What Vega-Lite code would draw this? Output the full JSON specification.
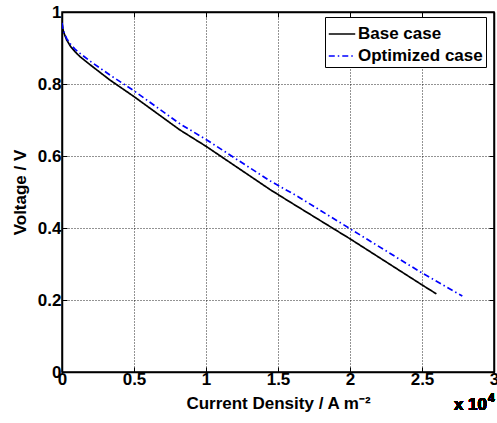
{
  "$schema": "https://vega.github.io/schema/vega-lite/v6.json",
  "width": 432,
  "height": 360,
  "autosize": {"type": "none"},
  "padding": {"left": 62, "top": 12, "right": 3, "bottom": 51},
  "background": "white",
  "config": {
    "font": "Liberation Sans",
    "view": {"stroke": "black", "strokeWidth": 1.5},
    "axis": {
      "labelFont": "Liberation Sans",
      "labelFontSize": 17,
      "labelFontWeight": "bold",
      "labelColor": "black",
      "titleFont": "Liberation Sans",
      "titleFontSize": 17,
      "titleFontWeight": "bold",
      "titleColor": "black",
      "domainColor": "black",
      "domainWidth": 1.5,
      "tickColor": "black",
      "tickWidth": 1,
      "gridColor": "black",
      "gridDash": [1, 2],
      "gridOpacity": 0.85,
      "gridWidth": 1
    }
  },
  "data": {
    "values": [
      {"series": "Base case", "j": 0, "v": 0.97},
      {"series": "Base case", "j": 50, "v": 0.955},
      {"series": "Base case", "j": 100, "v": 0.946},
      {"series": "Base case", "j": 200, "v": 0.935},
      {"series": "Base case", "j": 330, "v": 0.922},
      {"series": "Base case", "j": 600, "v": 0.904},
      {"series": "Base case", "j": 900, "v": 0.89},
      {"series": "Base case", "j": 1250, "v": 0.876},
      {"series": "Base case", "j": 2000, "v": 0.852},
      {"series": "Base case", "j": 3330, "v": 0.811},
      {"series": "Base case", "j": 5000, "v": 0.765},
      {"series": "Base case", "j": 8200, "v": 0.672},
      {"series": "Base case", "j": 10000, "v": 0.627},
      {"series": "Base case", "j": 14440, "v": 0.507},
      {"series": "Base case", "j": 15600, "v": 0.478},
      {"series": "Base case", "j": 20000, "v": 0.37},
      {"series": "Base case", "j": 25000, "v": 0.242},
      {"series": "Base case", "j": 26000, "v": 0.217},
      {"series": "Optimized case", "j": 0, "v": 0.97},
      {"series": "Optimized case", "j": 50, "v": 0.956},
      {"series": "Optimized case", "j": 100, "v": 0.948},
      {"series": "Optimized case", "j": 200, "v": 0.938},
      {"series": "Optimized case", "j": 330, "v": 0.926},
      {"series": "Optimized case", "j": 600, "v": 0.91},
      {"series": "Optimized case", "j": 900, "v": 0.897},
      {"series": "Optimized case", "j": 1250, "v": 0.885},
      {"series": "Optimized case", "j": 2000, "v": 0.862},
      {"series": "Optimized case", "j": 3330, "v": 0.825},
      {"series": "Optimized case", "j": 5000, "v": 0.781},
      {"series": "Optimized case", "j": 8200, "v": 0.689},
      {"series": "Optimized case", "j": 10000, "v": 0.646},
      {"series": "Optimized case", "j": 14440, "v": 0.531},
      {"series": "Optimized case", "j": 16400, "v": 0.487},
      {"series": "Optimized case", "j": 20000, "v": 0.398},
      {"series": "Optimized case", "j": 25000, "v": 0.275},
      {"series": "Optimized case", "j": 27800, "v": 0.211}
    ]
  },
  "resolve": {"axis": {"x": "independent", "y": "independent"}},
  "layer": [
    {
      "mark": {"type": "line", "strokeWidth": 1.7, "clip": true},
      "encoding": {
        "x": {
          "field": "j",
          "type": "quantitative",
          "scale": {"domain": [0, 30000], "nice": false, "zero": false},
          "axis": {
            "orient": "bottom",
            "values": [0, 5000, 10000, 15000, 20000, 25000, 30000],
            "labelExpr": "format(datum.value / 10000, '~g')",
            "title": "Current Density / A m⁻²",
            "tickSize": -5,
            "labelPadding": 4,
            "titlePadding": 8,
            "grid": true,
            "labelFlush": false
          }
        },
        "y": {
          "field": "v",
          "type": "quantitative",
          "scale": {"domain": [0, 1], "nice": false, "zero": false},
          "axis": {
            "orient": "left",
            "values": [0, 0.2, 0.4, 0.6, 0.8, 1],
            "labelExpr": "format(datum.value, '~g')",
            "title": "Voltage / V",
            "tickSize": -5,
            "labelPadding": 6,
            "titlePadding": 8,
            "grid": true,
            "labelFlush": false
          }
        },
        "color": {
          "field": "series",
          "type": "nominal",
          "scale": {"domain": ["Base case", "Optimized case"], "range": ["#000000", "#0000ff"]},
          "legend": {
            "title": null,
            "orient": "none",
            "legendX": 263,
            "legendY": 5,
            "strokeColor": "black",
            "fillColor": "white",
            "padding": 3,
            "labelFont": "Liberation Sans",
            "labelFontSize": 17,
            "labelFontWeight": "bold",
            "labelColor": "black",
            "labelOffset": 2,
            "symbolType": "stroke",
            "symbolSize": 700,
            "symbolStrokeWidth": 1.3,
            "rowPadding": 0
          }
        },
        "strokeDash": {
          "field": "series",
          "type": "nominal",
          "scale": {"domain": ["Base case", "Optimized case"], "range": [[1, 0], [6, 3, 1.5, 3]]},
          "legend": {
            "title": null,
            "orient": "none",
            "legendX": 263,
            "legendY": 5,
            "strokeColor": "black",
            "fillColor": "white",
            "padding": 3,
            "labelFont": "Liberation Sans",
            "labelFontSize": 17,
            "labelFontWeight": "bold",
            "labelColor": "black",
            "labelOffset": 2,
            "symbolType": "stroke",
            "symbolSize": 700,
            "symbolStrokeWidth": 1.3,
            "rowPadding": 0
          }
        }
      }
    },
    {
      "mark": {"type": "text", "text": "x 10", "align": "right", "baseline": "middle", "dy": 33, "dx": -7, "fontSize": 17, "fontWeight": "bold", "font": "Liberation Sans", "color": "black"},
      "encoding": {
        "x": {
          "datum": 30000,
          "type": "quantitative",
          "axis": {"orient": "top", "labels": false, "title": null, "grid": false, "tickSize": -5, "values": [0, 5000, 10000, 15000, 20000, 25000, 30000]}
        },
        "y": {
          "datum": 0,
          "type": "quantitative",
          "axis": {"orient": "right", "labels": false, "title": null, "grid": false, "tickSize": -5, "values": [0, 0.2, 0.4, 0.6, 0.8, 1]}
        }
      }
    },
    {
      "mark": {"type": "text", "text": "4", "align": "left", "baseline": "middle", "dy": 26, "dx": -6, "fontSize": 12, "fontWeight": "bold", "font": "Liberation Sans", "color": "black"},
      "encoding": {
        "x": {"datum": 30000, "type": "quantitative", "axis": null},
        "y": {"datum": 0, "type": "quantitative", "axis": null}
      }
    }
  ]
}
